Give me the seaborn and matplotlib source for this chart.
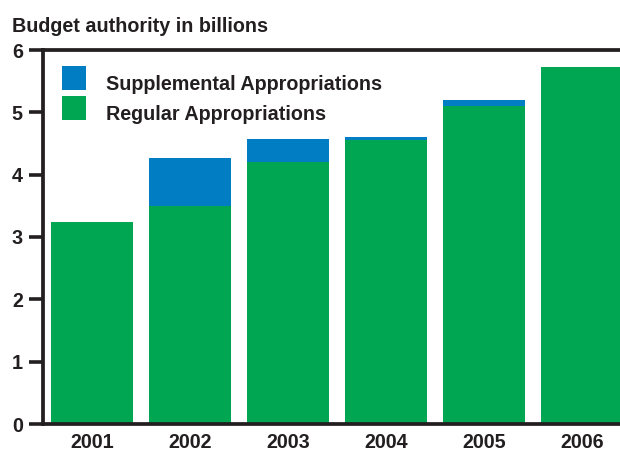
import matplotlib
matplotlib.use("Agg")
import matplotlib.pyplot as plt
import matplotlib.transforms as mtransforms
import seaborn as sns
import pandas as pd
from matplotlib.patches import Patch

years = ["2001", "2002", "2003", "2004", "2005", "2006"]
regular = [3.24, 3.50, 4.20, 4.55, 5.10, 5.73]
supplemental = [0.00, 0.77, 0.37, 0.05, 0.10, 0.00]
yticks = [0, 1, 2, 3, 4, 5, 6]
title = "Budget authority in billions"
labels = ["Supplemental Appropriations", "Regular Appropriations"]

BLUE = "#007DC3"
GREEN = "#00A651"
INK = "#231F20"
FS = 14.2

sns.set_style("white")
plt.rcParams["font.family"] = ["Liberation Sans", "DejaVu Sans"]
plt.rcParams["font.weight"] = "bold"

df = pd.DataFrame({"year": years, "regular": regular, "supplemental": supplemental})
df["total"] = df["regular"] + df["supplemental"]

fig = plt.figure(figsize=(6.2, 4.53), dpi=100)
ax = fig.add_axes([43 / 620, 29 / 453, 588 / 620, 374 / 453])

sns.barplot(data=df, x="year", y="total", color=BLUE, saturation=1, width=0.84,
            ax=ax, order=years)
sns.barplot(data=df, x="year", y="regular", color=GREEN, saturation=1, width=0.84,
            ax=ax, order=years)
for p in ax.patches:
    p.set_edgecolor("none")
    p.set_linewidth(0)

ax.set_xlim(-0.5, 5.5)
ax.set_ylim(0, 6)
ax.set_yticks(yticks)
ax.set_yticklabels([str(t) for t in yticks])
ax.set_xlabel("")
ax.set_ylabel("")

for s in ["left", "top", "bottom", "right"]:
    ax.spines[s].set_visible(True)
    ax.spines[s].set_color(INK)
    ax.spines[s].set_linewidth(2.7)

ax.tick_params(axis="y", which="both", direction="out", length=10, width=2.6,
               color=INK, labelcolor=INK, labelsize=FS, pad=4.5, left=True)
ax.tick_params(axis="x", length=0, labelcolor=INK, labelsize=FS, pad=6.5)
for t in ax.get_xticklabels() + ax.get_yticklabels():
    t.set_fontweight("bold")

fig.text(12 / 620, 1 - 32 / 453, title, fontsize=FS, fontweight="bold",
         color=INK, ha="left", va="baseline")

handles = [Patch(facecolor=BLUE, edgecolor="none"), Patch(facecolor=GREEN, edgecolor="none")]
leg = fig.legend(handles, labels, loc="upper left",
                 bbox_to_anchor=(62 / 620, 1 - 66 / 453), frameon=False,
                 handlelength=1.22, handleheight=1.52, handletextpad=1.0,
                 labelspacing=0.29, borderpad=0, borderaxespad=0,
                 prop={"size": FS, "weight": "bold"})
shift = mtransforms.ScaledTranslation(0, -5 / 100, fig.dpi_scale_trans)
for t in leg.get_texts():
    t.set_color(INK)
    t.set_transform(t.get_transform() + shift)

fig.savefig("out.png", dpi=100)
